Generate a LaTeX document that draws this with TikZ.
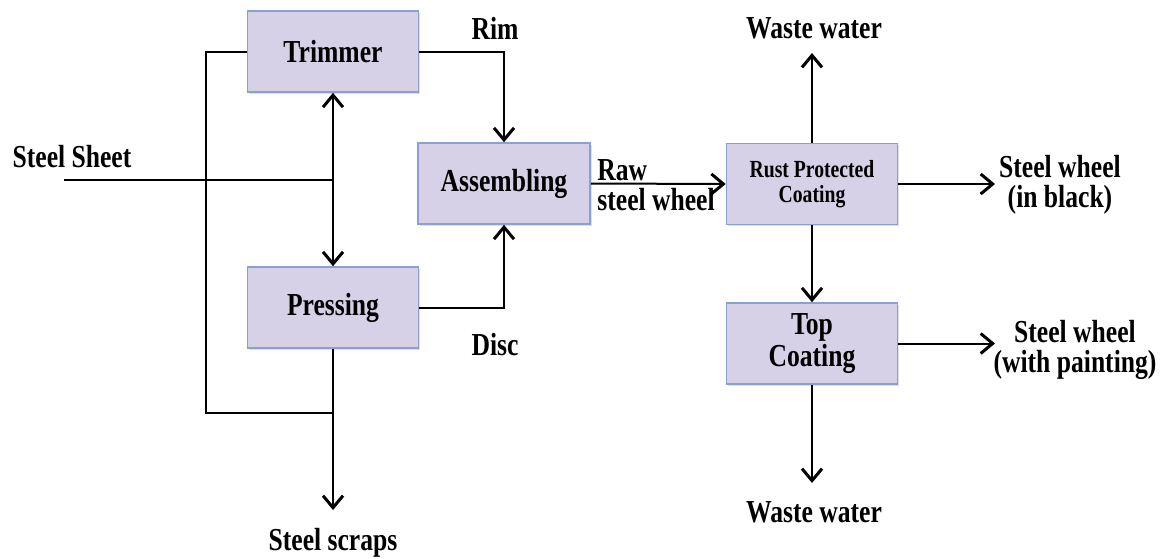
\documentclass[tikz,border=0pt]{standalone}
\usepackage{fontspec}
\setmainfont{Liberation Serif}[FakeStretch=0.8]
\usepackage{tikz}
\usetikzlibrary{arrows.meta,positioning,shadows}
\definecolor{boxLavender}{RGB}{215,209,232}
\definecolor{boxEdge}{RGB}{138,160,206}

\begin{document}
\begin{tikzpicture}[
    x=0.5pt, y=-0.5pt,
    unit/.style={draw=boxEdge, fill=boxLavender, line width=0.8pt,
      minimum width=85.5pt, minimum height=40.5pt, inner sep=2pt, align=center,
      font=\fontsize{16}{16}\selectfont\bfseries,
      drop shadow={opacity=0.25, shadow xshift=0.9pt, shadow yshift=-0.9pt}},
    lbl/.style={font=\fontsize{16}{15}\selectfont\bfseries, align=center, inner sep=0pt},
    pipe/.style={line width=1pt},
    flow/.style={pipe, -{Straight Barb[length=6pt,width=10pt,line width=1.5pt]}}
  ]
    \useasboundingbox (0,0) rectangle (1168,558);

    % process units
    \node[unit] (trim) at (333,51.5) {Trimmer};
    \node[unit] (press) at (333,307.5) {Pressing};
    \node[unit, minimum width=86pt] (asm) at (504,183.5) {Assembling};
    \node[unit, font=\fontsize{12.3}{12.5}\selectfont\bfseries] (rust) at (812,184)
      {Rust Protected\\Coating};
    \node[unit] (top) at (812,343.5) {Top\\Coating};

    % free ends of the streams
    \coordinate (sheetin) at (64,180);
    \coordinate (split) at (333,180);
    \coordinate (scrapjoin) at (333,413);
    \coordinate (scrapout) at (333,510);
    \coordinate (wwup) at (812,53);
    \coordinate (blackout) at (995,184);
    \coordinate (paintout) at (995,343.5);
    \coordinate (wwdown) at (812,483);

    % sheet feed and offcuts
    \draw[pipe] (sheetin) -- (split);
    \draw[flow] (split) -- (trim.south);
    \draw[flow] (split) -- (press.north);
    \draw[pipe] (trim.west) -- ++(-41,0) |- (scrapjoin);
    \draw[flow] (press.south) -- (scrapout);

    % parts to assembly and coating line
    \draw[flow] (trim.east) -| (asm.north);
    \draw[flow] (press.east) -| (asm.south);
    \draw[flow] (asm.east) -- (rust.west);
    \draw[flow] (rust.north) -- (wwup);
    \draw[flow] (rust.east) -- (blackout);
    \draw[flow] (rust.south) -- (top.north);
    \draw[flow] (top.east) -- (paintout);
    \draw[flow] (top.south) -- (wwdown);

    % stream labels
    \node[lbl] (sheet) at (72,157) {Steel Sheet};
    \node[lbl] (rim) at (495,28) {Rim};
    \node[lbl] (disc) at (495,345) {Disc};
    \node[lbl, align=left, anchor=west] (raw) at (597,185) {Raw\\steel wheel};
    \node[lbl] (wwtop) at (814,28) {Waste water};
    \node[lbl] (black) at (1060,185) {Steel wheel\\(in black)};
    \node[lbl] (paint) at (1075,350) {Steel wheel\\(with painting)};
    \node[lbl] (wwbot) at (814,512) {Waste water};
    \node[lbl] (scraps) at (333,543) {Steel scraps};
\end{tikzpicture}
\end{document}
